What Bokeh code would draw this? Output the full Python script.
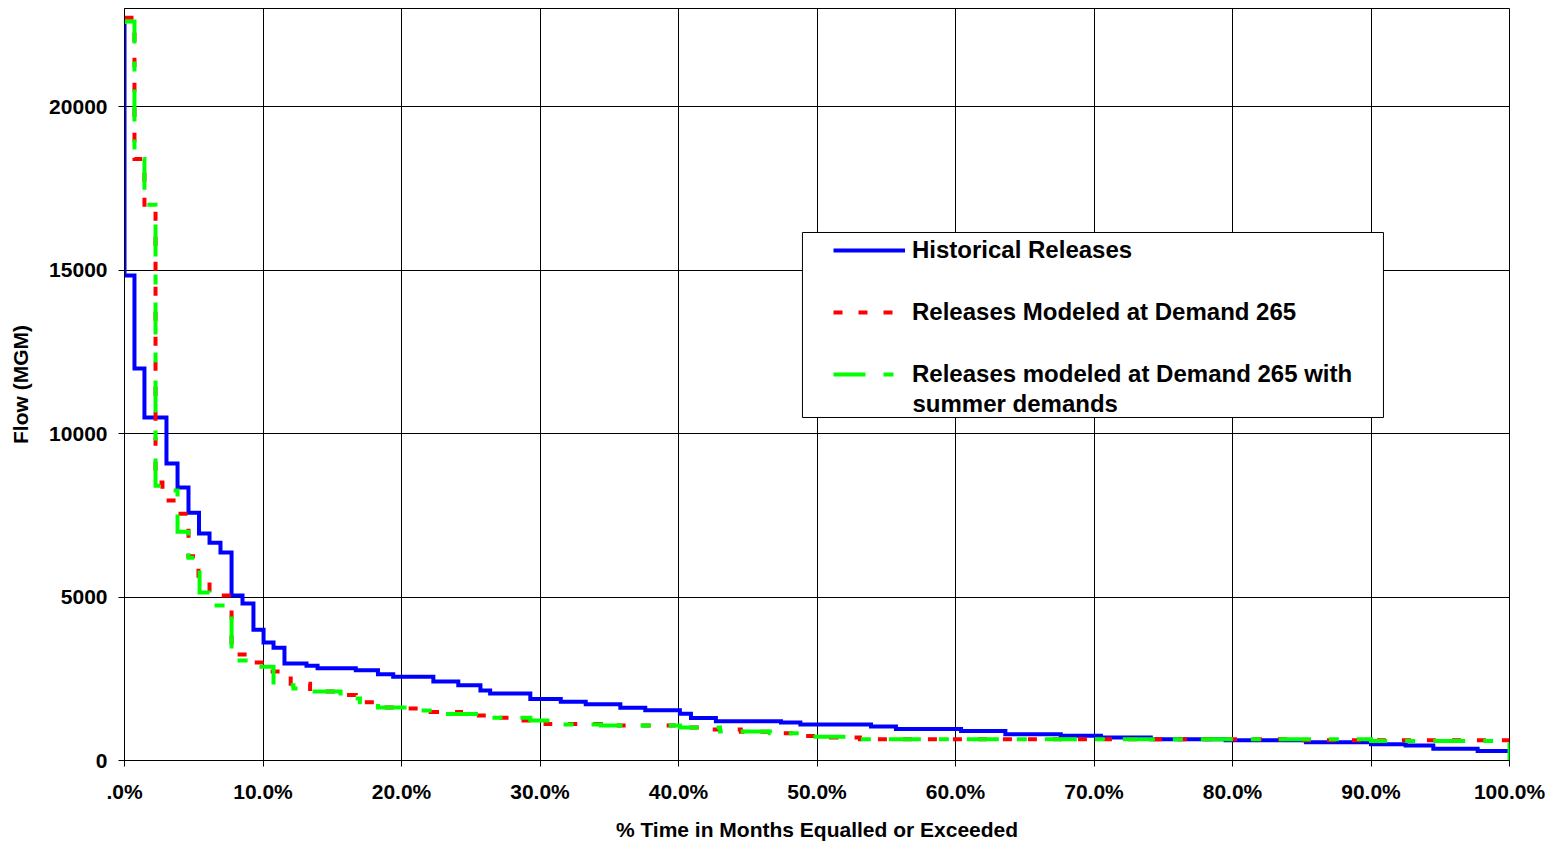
from bokeh.plotting import figure
from bokeh.models import Range1d, FixedTicker, Legend, LegendItem, Label, BoxAnnotation
from bokeh.embed import file_html
from bokeh.resources import INLINE

# ---------------- data ----------------
x_ticks = [0, 10, 20, 30, 40, 50, 60, 70, 80, 90, 100]
x_tick_labels = [".0%", "10.0%", "20.0%", "30.0%", "40.0%", "50.0%",
                 "60.0%", "70.0%", "80.0%", "90.0%", "100.0%"]
y_ticks = [0, 5000, 10000, 15000, 20000]
y_tick_labels = ["0", "5000", "10000", "15000", "20000"]

# Historical Releases (step curve: x = start of level, % time; y = flow MGM)
hist_x = [0, 0, 0.72, 1.44, 3.03, 3.83, 4.62, 5.38, 6.14, 6.93,
          7.73, 8.52, 9.31, 10.04, 10.76, 11.55, 13.14, 13.94, 16.7, 18.3,
          19.4, 22.3, 24.1, 25.7, 26.4, 29.3, 31.5, 33.3, 35.8, 37.6,
          40.1, 40.9, 42.7, 47.4, 48.8, 53.9, 55.7, 60.4, 63.6, 67.6,
          70.5, 74.1, 79.5, 85.3, 90.0, 92.5, 94.5, 97.7, 100]
hist_y = [22540, 14830, 11990, 10490, 9080, 8350, 7580, 6940, 6660, 6360,
          5050, 4800, 4000, 3610, 3450, 2970, 2900, 2820, 2760, 2640,
          2560, 2420, 2300, 2140, 2050, 1880, 1800, 1720, 1610, 1540,
          1430, 1300, 1200, 1160, 1100, 1040, 960, 900, 800, 760,
          700, 650, 620, 560, 500, 460, 360, 290, 290]

# Releases Modeled at Demand 265
m265_x = [0, 0.72, 1.44, 2.24, 2.74, 3.75, 4.62, 5.34, 6.14, 7.73,
          9.24, 10.4, 12.0, 13.4, 15.2, 16.7, 18.1, 19.9, 22.1, 24.3,
          26.4, 28.6, 30.4, 34.4, 40.1, 42.3, 44.5, 46.6, 48.8, 51.0,
          53.1, 84.9, 100]
m265_y = [22720, 18400, 17000, 8500, 7950, 7550, 6250, 5500, 5050, 3240,
          3000, 2720, 2350, 2110, 2000, 1780, 1620, 1590, 1480, 1380,
          1310, 1220, 1120, 1070, 1010, 950, 880, 830, 750, 700,
          650, 620, 620]

# Releases modeled at Demand 265 with summer demands
summ_x = [0, 0.72, 1.44, 2.24, 2.95, 3.83, 4.62, 5.42, 6.14, 7.73,
          9.46, 10.76, 12.2, 13.4, 15.6, 17.0, 18.3, 20.8, 23.2, 25.7,
          29.3, 31.0, 34.4, 40.1, 43.0, 46.6, 49.5, 52.4, 90.0, 100]
summ_y = [22600, 18400, 17000, 8400, 8260, 7000, 6200, 5140, 4740, 3060,
          2870, 2300, 2200, 2110, 1900, 1780, 1620, 1530, 1420, 1310,
          1220, 1100, 1070, 1010, 890, 830, 730, 650, 600, 0]

series_labels = ["Historical Releases", "Releases Modeled at Demand 265",
                 "Releases modeled at Demand 265 with", "summer demands"]

# ---------------- figure ----------------
FONT = "Liberation Sans"

p = figure(width=1554, height=845, output_backend="svg", toolbar_location=None,
           x_range=Range1d(0, 100), y_range=Range1d(0, 23000),
           min_border_left=124, min_border_right=45, min_border_top=8,
           min_border_bottom=85)
p.background_fill_color = "white"
p.border_fill_color = "white"
p.outline_line_color = "black"
p.outline_line_width = 1

xt = FixedTicker(ticks=x_ticks, minor_ticks=[])
yt = FixedTicker(ticks=y_ticks, minor_ticks=[])
p.xaxis.ticker = xt
p.yaxis.ticker = yt
p.xgrid.ticker = xt
p.ygrid.ticker = yt
p.xaxis.major_label_overrides = {t: l for t, l in zip(x_ticks, x_tick_labels)}
p.yaxis.major_label_overrides = {t: l for t, l in zip(y_ticks, y_tick_labels)}

for g in (p.xgrid, p.ygrid):
    g.grid_line_color = "black"
    g.grid_line_width = 1
    g.grid_line_alpha = 1

for ax in (p.xaxis, p.yaxis):
    ax.axis_line_color = "black"
    ax.axis_line_width = 1
    ax.major_tick_line_color = "black"
    ax.major_tick_in = 0
    ax.major_tick_out = 6
    ax.minor_tick_line_color = None
    ax.major_label_text_font = FONT
    ax.major_label_text_font_style = "bold"
    ax.major_label_text_font_size = "21px"
    ax.major_label_text_color = "black"
    ax.axis_label_text_font = FONT
    ax.axis_label_text_font_style = "bold"
    ax.axis_label_text_font_size = "21px"
    ax.axis_label_text_color = "black"

p.xaxis.axis_label = "% Time in Months Equalled or Exceeded"
p.yaxis.axis_label = "Flow (MGM)"
p.xaxis.major_label_standoff = 13
p.xaxis.axis_label_standoff = 12
p.yaxis.major_label_standoff = 11
p.yaxis.axis_label_standoff = 14

r_hist = p.step(hist_x, hist_y, mode="after", line_color="#0000FF",
                line_width=4, line_join="miter")
r_m265 = p.step(m265_x, m265_y, mode="after", line_color="#FF0000",
                line_width=4, line_dash="9 16", line_join="miter")
r_summ = p.step(summ_x, summ_y, mode="after", line_color="#00FF00",
                line_width=4, line_dash="32 18 10 18", line_join="miter")

# legend box (white, black border)
box = BoxAnnotation(left=48.95, right=90.9, bottom=10491, top=16149,
                    fill_color="white", fill_alpha=1,
                    line_color="black", line_width=1, line_alpha=1)
p.add_layout(box)

legend = Legend(items=[LegendItem(label=series_labels[0], renderers=[r_hist]),
                       LegendItem(label=series_labels[1], renderers=[r_m265]),
                       LegendItem(label=series_labels[2], renderers=[r_summ])],
                location=(709, 372), padding=0, margin=0, spacing=34,
                glyph_width=72, glyph_height=20, label_height=20,
                label_standoff=7,
                label_text_font=FONT, label_text_font_style="bold",
                label_text_font_size="24px", label_text_color="black",
                border_line_alpha=0, background_fill_alpha=0)
p.add_layout(legend)

extra = Label(x=788, y=357, x_units="screen", y_units="screen",
              text=series_labels[3], text_font=FONT, text_font_style="bold",
              text_font_size="24px", text_color="black",
              text_baseline="middle", text_align="left")
p.add_layout(extra)

open("out.html", "w").write(file_html(p, INLINE))
